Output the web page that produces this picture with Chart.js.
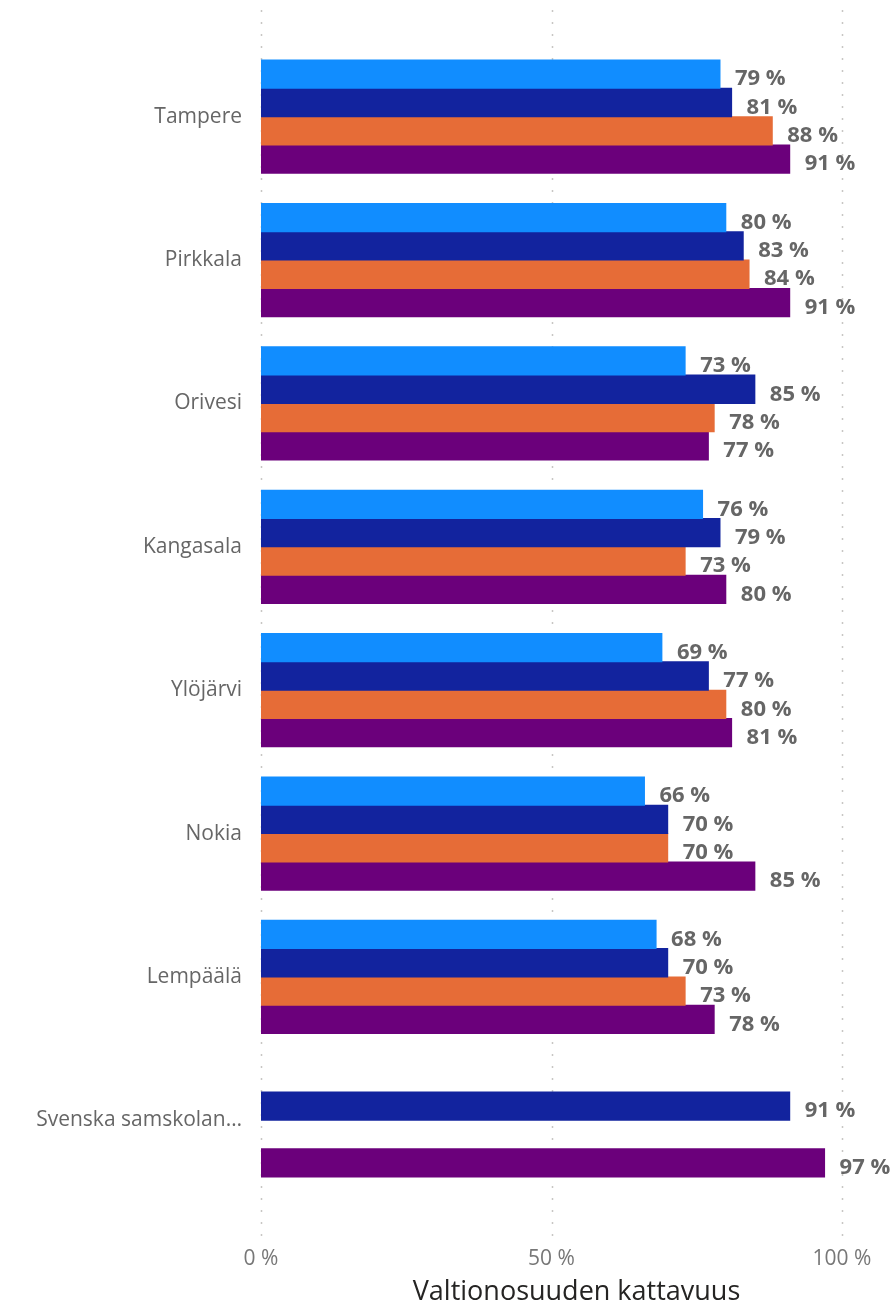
<!DOCTYPE html>
<html>
<head>
<meta charset="utf-8">
<script src="https://cdn.jsdelivr.net/npm/chart.js@4.4.1/dist/chart.umd.min.js"></script>
<style>
  html, body { margin: 0; padding: 0; background: #fff; }
  #wrap { width: 891px; height: 1310px; position: relative; }
</style>
</head>
<body>
<div id="wrap"><canvas id="chart"></canvas></div>
<script>
// --- data ---
const categories = ['Tampere', 'Pirkkala', 'Orivesi', 'Kangasala', 'Ylöjärvi', 'Nokia', 'Lempäälä', 'Svenska samskolan…'];
const series1 = [79, 80, 73, 76, 69, 66, 68, null];
const series2 = [81, 83, 85, 79, 77, 70, 70, 91];
const series3 = [88, 84, 78, 73, 80, 70, 73, null];
const series4 = [91, 91, 77, 80, 81, 85, 78, 97];
const xTicks = [0, 50, 100];

const FONT = '"Segoe UI", "Open Sans", "Noto Sans", sans-serif';

// dotted gridlines that run a bit past the plot area, like the original
const gridPlugin = {
    id: 'dottedGrid',
    beforeDatasetsDraw(chart) {
        const { ctx, chartArea, scales } = chart;
        ctx.save();
        ctx.strokeStyle = '#c8c6c4';
        ctx.lineWidth = 1.5;
        ctx.setLineDash([2, 10]);
        xTicks.forEach(t => {
            const x = Math.round(scales.x.getPixelForValue(t)) + 0.5;
            ctx.beginPath();
            ctx.moveTo(x, chartArea.top - 35);
            ctx.lineTo(x, chartArea.bottom + 44);
            ctx.stroke();
        });
        ctx.restore();
    }
};

// value labels at the end of each bar
const valueLabels = {
    id: 'valueLabels',
    afterDatasetsDraw(chart) {
        const { ctx } = chart;
        ctx.save();
        ctx.font = 'bold 22px ' + FONT;
        ctx.fillStyle = '#666666';
        ctx.textAlign = 'left';
        ctx.textBaseline = 'middle';
        chart.data.datasets.forEach((ds, i) => {
            const meta = chart.getDatasetMeta(i);
            meta.data.forEach((bar, j) => {
                const v = ds.data[j];
                if (v === null || v === undefined) return;
                ctx.fillText(v + ' %', bar.x + 15, bar.y + 5);
            });
        });
        ctx.restore();
    }
};

// axis title, drawn under the ticks
const axisTitle = {
    id: 'axisTitle',
    afterDraw(chart) {
        const { ctx, chartArea } = chart;
        ctx.save();
        ctx.font = '27px ' + FONT;
        ctx.fillStyle = '#252423';
        ctx.textAlign = 'center';
        ctx.textBaseline = 'middle';
        ctx.fillText('Valtionosuuden kattavuus', (chartArea.left + chartArea.right) / 2 + 25, 1292);
        ctx.restore();
    }
};

const ctx = document.getElementById('chart').getContext('2d');
new Chart(ctx, {
    type: 'bar',
    data: {
        labels: categories,
        datasets: [
            { label: 'Sarja 1', data: series1, backgroundColor: '#118DFF' },
            { label: 'Sarja 2', data: series2, backgroundColor: '#12239E' },
            { label: 'Sarja 3', data: series3, backgroundColor: '#E66C37' },
            { label: 'Sarja 4', data: series4, backgroundColor: '#6B007B' }
        ]
    },
    options: {
        indexAxis: 'y',
        responsive: true,
        maintainAspectRatio: false,
        animation: false,
        categoryPercentage: 0.79,
        barPercentage: 1.0,
        elements: { bar: { inflateAmount: 0.5 } },
        layout: { padding: { top: 45, right: 49, bottom: 0, left: 0 } },
        scales: {
            x: {
                min: 0,
                max: 100,
                afterBuildTicks: (scale) => { scale.ticks = xTicks.map(v => ({ value: v })); },
                afterFit: (scale) => {
                    scale.height = 118;
                    scale.paddingLeft = 0;
                    scale.paddingRight = 0;
                },
                grid: { display: false, drawTicks: false },
                border: { display: false },
                ticks: {
                    padding: 54,
                    color: '#777777',
                    font: { family: FONT, size: 21 },
                    callback: (v) => v + ' %'
                }
            },
            y: {
                afterFit: (scale) => {
                    scale.width = 261;
                    scale.paddingTop = 0;
                    scale.paddingBottom = 0;
                },
                grid: { display: false, drawTicks: false },
                border: { display: false },
                ticks: {
                    padding: 19,
                    color: '#666666',
                    font: { family: FONT, size: 21 }
                }
            }
        },
        plugins: {
            legend: { display: false },
            tooltip: { enabled: false }
        }
    },
    plugins: [gridPlugin, valueLabels, axisTitle]
});
</script>
</body>
</html>
